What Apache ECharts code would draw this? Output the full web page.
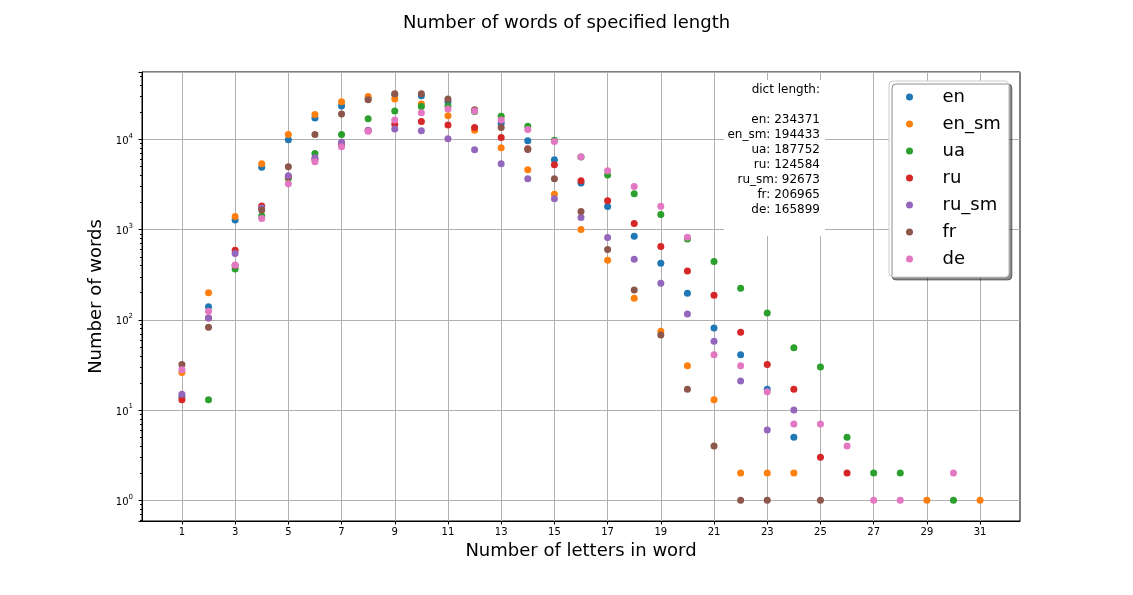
<!DOCTYPE html>
<html>
<head>
<meta charset="utf-8">
<title>Number of words of specified length</title>
<script src="https://cdn.jsdelivr.net/npm/echarts@6/dist/echarts.min.js"></script>
<style>
  html, body { margin: 0; padding: 0; background: #fff; }
  #word_lengths { width: 1133px; height: 595px; }
</style>
</head>
<body>
<div id="word_lengths"></div>
<script>
// Chart data
// ------------------------------

// word length, 1..31 letters
var lengths = [1, 2, 3, 4, 5, 6, 7, 8, 9, 10, 11, 12, 13, 14, 15, 16,
  17, 18, 19, 20, 21, 22, 23, 24, 25, 26, 27, 28, 29, 30, 31];

var xTickLabels = [1, 3, 5, 7, 9, 11, 13, 15, 17, 19, 21, 23, 25, 27, 29, 31];

var dictNames = ["en", "en_sm", "ua", "ru", "ru_sm", "fr", "de"];
var dictSizes = [234371, 194433, 187752, 124584, 92673, 206965, 165899];

// number of words per length (null = no words)
var enWords = [14, 140, 1283, 4940, 9930, 17380, 23560, 28500, 31500, 30600, 26300,
  21000, 15140, 9680, 5970, 3290, 1805, 847, 424, 197, 81, 41, 17, 5,
  null, null, null, null, null, null, null];
var enSmWords = [26, 200, 1400, 5390, 11350, 18900, 26300, 30100, 28200, 24800, 18300,
  12670, 8090, 4630, 2470, 1005, 457, 174, 75, 31, 13, 2, 2, 2,
  null, null, null, null, 1, null, 1];
var uaWords = [null, 13, 366, 1420, 3730, 7000, 11350, 16950, 20750, 23300, 23560,
  20500, 18100, 14030, 9800, 6400, 4030, 2510, 1473, 791, 445, 224, 119, 49,
  30, 5, 2, 2, null, 1, null];
var ruWords = [13, 105, 593, 1833, 3900, 6000, 9000, 12500, 14760, 15800, 14500,
  13580, 10520, 7900, 5250, 3500, 2100, 1170, 652, 348, 188, 73, 32, 17,
  3, 2, null, null, null, null, null];
var ruSmWords = [15, 105, 546, 1740, 3970, 6280, 9340, 12670, 13120, 12480, 10180,
  7690, 5390, 3680, 2210, 1365, 820, 469, 254, 116, 58, 21, 6, 10,
  null, null, null, null, null, null, null];
var frWords = [32, 83, 400, 1655, 4990, 11350, 19230, 27700, 32200, 32200, 28200,
  21400, 13580, 7760, 3680, 1590, 604, 214, 68, 17, 4, 1, 1, null,
  1, null, null, null, null, null, null];
var deWords = [28, 125, 405, 1330, 3240, 5670, 8300, 12350, 16500, 19850, 21800,
  20750, 16500, 12880, 9540, 6440, 4510, 3020, 1820, 826, 41, 31, 16, 7,
  7, 4, 1, 1, null, 2, null];

var wordCounts = [enWords, enSmWords, uaWords, ruWords, ruSmWords, frWords, deWords];

// y range of the log axis
var yMin = 0.588;
var yMax = 56100;


// Setup module
// ------------------------------

var WordLengthScatter = (function () {

  var FONT = "'DejaVu Sans', sans-serif";

  // pairs [length, count], skipping empty lengths
  var toPoints = function (counts) {
    var points = [];
    for (var i = 0; i < lengths.length; i++) {
      if (counts[i] != null) points.push([lengths[i], counts[i]]);
    }
    return points;
  };

  // matplotlib style minor ticks 2..9 x 10^k (positions in log units)
  var minorTicks = function () {
    var ticks = [];
    for (var k = -1; k <= 4; k++) {
      for (var m = 2; m <= 9; m++) {
        var v = m * Math.pow(10, k);
        if (v > yMin && v < yMax) ticks.push(Math.log10(v));
      }
    }
    return ticks;
  };

  var _scatterChart = function () {
    if (typeof echarts == "undefined") {
      console.warn("Warning - echarts.min.js is not loaded.");
      return;
    }

    var chart_element = document.getElementById("word_lengths");
    if (!chart_element) return;

    var chart = echarts.init(chart_element, null, { renderer: "canvas" });

    var series = dictNames.map(function (name, i) {
      return {
        name: name,
        type: "scatter",
        yAxisIndex: 0,
        symbolSize: 7,
        itemStyle: { opacity: 1 },
        data: toPoints(wordCounts[i]),
        emphasis: { disabled: true }
      };
    });

    var noteLines = ["dict length:", ""];
    dictNames.forEach(function (name, i) {
      noteLines.push(name + ": " + dictSizes[i]);
    });

    chart.setOption({
      animation: false,
      color: ["#1f77b4", "#ff7f0e", "#2ca02c", "#d62728", "#9467bd", "#8c564b", "#e377c2"],
      textStyle: { fontFamily: FONT, color: "#000" },

      title: {
        text: "Number of words of specified length",
        left: "center",
        top: 9,
        textStyle: { fontFamily: FONT, fontSize: 18, fontWeight: "normal", color: "#000" }
      },

      grid: {
        left: 142,
        top: 72,
        width: 878,
        height: 449,
        show: true,
        borderColor: "#000",
        borderWidth: 1,
        backgroundColor: "transparent"
      },

      legend: {
        data: dictNames,
        orient: "vertical",
        left: 889,
        top: 81,
        icon: "circle",
        itemWidth: 14,
        itemHeight: 7,
        itemGap: 7,
        padding: [6, 8, 8, 17],
        backgroundColor: "#fff",
        borderColor: "#ccc",
        borderWidth: 1,
        borderRadius: 4,
        shadowColor: "rgba(0,0,0,0.45)",
        shadowBlur: 0,
        shadowOffsetX: 3,
        shadowOffsetY: 3,
        textStyle: {
          fontFamily: FONT,
          fontSize: 18,
          color: "#000",
          lineHeight: 20,
          padding: [0, 0, 0, 21]
        }
      },

      xAxis: {
        type: "value",
        min: -0.5,
        max: 32.5,
        name: "Number of letters in word",
        nameLocation: "middle",
        nameGap: 20,
        nameTextStyle: { fontFamily: FONT, fontSize: 18, color: "#000", verticalAlign: "top" },
        axisLine: { onZero: false, lineStyle: { color: "#000", width: 1 } },
        axisTick: { length: 3.5, lineStyle: { color: "#000" }, customValues: xTickLabels },
        axisLabel: { fontFamily: FONT, fontSize: 10, color: "#000", margin: 6, customValues: xTickLabels },
        splitLine: { show: true, lineStyle: { color: "#b0b0b0", width: 1 } }
      },

      yAxis: [
        {
          type: "log",
          min: yMin,
          max: yMax,
          name: "Number of words",
          nameLocation: "middle",
          nameGap: 32,
          nameTextStyle: { fontFamily: FONT, fontSize: 18, color: "#000" },
          axisLine: { show: true, onZero: false, lineStyle: { color: "#000", width: 1 } },
          axisTick: { show: true, length: 3.5, lineStyle: { color: "#000" } },
          axisLabel: {
            margin: 9,
            formatter: function (v) {
              var e = Math.log10(v);
              if (Math.abs(e - Math.round(e)) > 1e-6) return "";
              return "{b|10}{s|" + Math.round(e) + "}";
            },
            rich: {
              b: { fontFamily: FONT, fontSize: 10, color: "#000", lineHeight: 14, verticalAlign: "bottom" },
              s: { fontFamily: FONT, fontSize: 7, color: "#000", lineHeight: 9, verticalAlign: "top" }
            }
          },
          splitLine: { show: true, lineStyle: { color: "#b0b0b0", width: 1 } }
        },
        {
          // minor ticks only
          type: "value",
          min: Math.log10(yMin),
          max: Math.log10(yMax),
          position: "left",
          offset: 0,
          axisLine: { show: false, onZero: false },
          axisTick: { show: true, length: 2, lineStyle: { color: "#000" }, customValues: minorTicks() },
          axisLabel: { show: false },
          splitLine: { show: false }
        }
      ],

      graphic: [
        {
          type: "rect",
          z: 50,
          shape: { x: 724, y: 80, width: 101, height: 156 },
          style: { fill: "#fff" }
        },
        {
          type: "text",
          z: 51,
          style: {
            text: noteLines.join("\n"),
            x: 820,
            y: 82.5,
            align: "right",
            verticalAlign: "top",
            fontFamily: FONT,
            fontSize: 12,
            lineHeight: 15,
            fill: "#000"
          }
        }
      ],

      series: series
    });
  };

  return {
    init: function () {
      _scatterChart();
    }
  };
})();

document.addEventListener("DOMContentLoaded", function () {
  WordLengthScatter.init();
});
</script>
</body>
</html>
